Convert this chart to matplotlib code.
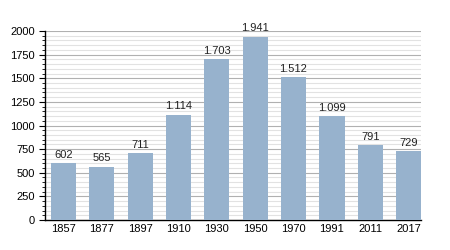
import matplotlib.pyplot as plt
from matplotlib.ticker import MultipleLocator

plt.rcParams["font.family"] = ["Liberation Sans", "DejaVu Sans"]

# data
years = ["1857", "1877", "1897", "1910", "1930", "1950", "1970", "1991", "2011", "2017"]
population = [602, 565, 711, 1114, 1703, 1941, 1512, 1099, 791, 729]
labels = ["602", "565", "711", "1.114", "1.703", "1.941", "1.512", "1.099", "791", "729"]

BAR_COLOR = "#97b2cd"
BAR_WIDTH = 0.66

fig = plt.figure(figsize=(4.5, 2.5), dpi=100)
ax = fig.add_axes([0.101, 0.12, 0.835, 0.756])

x = range(len(years))
ax.bar(x, population, width=BAR_WIDTH, color=BAR_COLOR, zorder=3)
for xi, v, lab in zip(x, population, labels):
    ax.text(xi, v + 35, lab, ha="center", va="bottom", fontsize=8, color="#222222")

ax.set_xlim(-0.47, len(years) - 1 + BAR_WIDTH / 2)
ax.set_ylim(0, 2000)
ax.set_xticks(list(x))
ax.set_xticklabels(years)
ax.yaxis.set_major_locator(MultipleLocator(250))
ax.yaxis.set_minor_locator(MultipleLocator(50))

ax.grid(axis="y", which="major", color="#b0b0b0", linewidth=0.8, zorder=0)
ax.grid(axis="y", which="minor", color="#e2e2e2", linewidth=0.8, zorder=0)

for s in ["top", "right"]:
    ax.spines[s].set_visible(False)
ax.spines["left"].set_linewidth(1.0)
ax.spines["bottom"].set_linewidth(1.0)
ax.tick_params(axis="x", length=0, labelsize=8, pad=3)
ax.tick_params(axis="y", which="major", length=4, labelsize=8, direction="out")
ax.tick_params(axis="y", which="minor", length=2, direction="out")

fig.savefig("out.png", dpi=100)
